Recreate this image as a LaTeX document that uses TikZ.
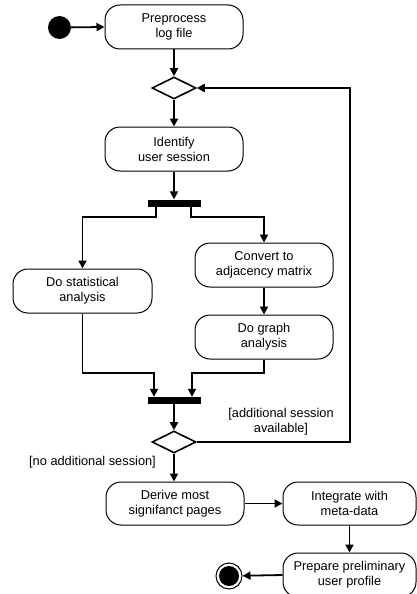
\documentclass[tikz,border=0pt]{standalone}
\usepackage{fontspec}
\setmainfont{Liberation Sans}
\usetikzlibrary{arrows.meta,shapes.geometric,calc}
\begin{document}
\begin{tikzpicture}[x=1pt,y=-1pt,
  act/.style={draw,line width=1pt,rounded corners=15pt,minimum width=138pt,minimum height=44pt,
    align=center,inner sep=0pt,font=\fontsize{12.8pt}{15pt}\selectfont},
  dec/.style={draw,line width=1.6pt,diamond,minimum width=44pt,minimum height=22pt,inner sep=0pt,aspect=2},
  bar/.style={fill=black,minimum width=53pt,minimum height=7pt,inner sep=0pt},
  flow/.style={line width=1.8pt,-{Triangle[length=8pt,width=8pt]}},
  guard/.style={align=center,font=\fontsize{12.8pt}{15pt}\selectfont,inner sep=0pt}]
\useasboundingbox (0,0) rectangle (417,594);
\clip (0,0) rectangle (417,594);
\node[circle,fill=black,minimum size=23pt,inner sep=0pt] (start) at (59.5,27.5) {};
\node[act] (pre) at (174,27) {Preprocess\\log file};
\node[dec] (d1) at (174,88) {};
\node[act] (ident) at (174,149) {Identify\\user session};
\node[bar] (fork) at (174,203) {};
\node[act,minimum width=139pt] (stat) at (82.5,291) {Do statistical\\analysis};
\node[act] (conv) at (264,265) {Convert to\\adjacency matrix};
\node[act] (graph) at (264,337) {Do graph\\analysis};
\node[bar] (join) at (174,400.5) {};
\node[dec] (d2) at (174,442) {};
\node[act,minimum height=43pt] (derive) at (175,503.5) {Derive most\\signifanct pages};
\node[act,minimum width=133pt,minimum height=43pt] (integ) at (349.5,503.5) {Integrate with\\meta-data};
\node[act,minimum width=133pt] (prep) at (349.5,575) {Prepare preliminary\\user profile};
\node[circle,draw,line width=1pt,minimum size=26pt,inner sep=0pt] (end) at (229,576) {};
\node[circle,fill=black,minimum size=20pt,inner sep=0pt] at (end.center) {};
\coordinate (m) at (174,373);
\coordinate (loop) at (350,88);
\node[guard] (g1) at (281,422) {[additional session\\available]};
\node[guard] (g2) at (92.5,462) {[no additional session]};

\draw[flow] (start) -- (pre.west);
\draw[flow] (pre) -- (d1);
\draw[flow] (d1) -- (ident);
\draw[flow] (ident) -- (fork);
\draw[flow] ([xshift=-18pt]fork.south) -- ++(0,10) -| (stat.north);
\draw[flow] ([xshift=17pt]fork.south) -- ++(0,10) -| (conv.north);
\draw[flow] (conv) -- (graph);
\draw[flow] (stat.south) |- ([xshift=-20pt]m) -- ([xshift=-20pt]join.north);
\draw[flow] (graph.south) |- ([xshift=18pt]m) -- ([xshift=18pt]join.north);
\draw[flow] (join) -- (d2);
\draw[flow] (d2.east) -| (loop) -- (d1.east);
\draw[flow] (d2.south) -- (d2.south |- derive.north);
\draw[flow] (derive) -- (integ);
\draw[flow] (integ) -- (prep);
\draw[flow] (prep.west) -- (end);
\end{tikzpicture}
\end{document}
